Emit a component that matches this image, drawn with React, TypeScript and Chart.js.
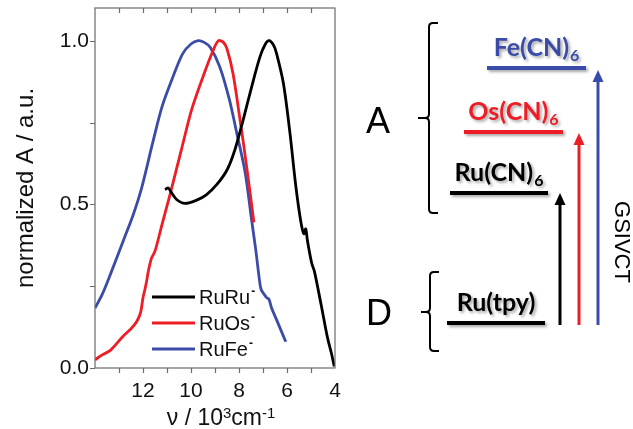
import React, { useEffect, useRef } from 'react';
import { Chart, registerables } from 'chart.js';

Chart.register(...registerables);

// ---- data (wavenumber in 10^3 cm^-1, normalized absorbance) ----
const ruRuV = [11.08, 10.95, 10.85, 10.6, 10.25, 9.76, 9.35, 8.93, 8.5, 8.17, 7.82, 7.47, 7.13, 6.9, 6.74, 6.55, 6.43, 6.15, 5.88, 5.64, 5.43, 5.3, 5.22, 5.15, 4.97, 4.86, 4.58, 4.31, 4.15, 4.03];
const ruRuA = [0.545, 0.55, 0.54, 0.515, 0.503, 0.513, 0.53, 0.56, 0.605, 0.667, 0.76, 0.86, 0.95, 0.99, 1.0, 0.985, 0.96, 0.87, 0.72, 0.56, 0.45, 0.41, 0.425, 0.39, 0.32, 0.296, 0.194, 0.092, 0.045, 0.005];

const ruOsV = [14, 13.7, 13.375, 12.82, 12.5, 12.26, 12.1, 12.0, 11.92, 11.85, 11.78, 11.65, 11.5, 11.22, 10.875, 10.4, 9.97, 9.5, 9.08, 8.86, 8.65, 8.5, 8.25, 7.96, 7.69, 7.38];
const ruOsA = [0.025, 0.04, 0.053, 0.098, 0.12, 0.142, 0.17, 0.215, 0.24, 0.265, 0.295, 0.335, 0.357, 0.435, 0.53, 0.667, 0.79, 0.89, 0.97, 1.0, 0.995, 0.975, 0.9, 0.76, 0.62, 0.445];

const ruFeV = [14, 13.7, 13.375, 12.82, 12.4, 12.05, 11.6, 11.2, 10.75, 10.35, 10.0, 9.7, 9.45, 9.2, 8.8, 8.4, 8.1, 7.75, 7.47, 7.3, 7.15, 7.08, 6.95, 6.85, 6.75, 6.65, 6.45, 6.25, 6.05];
const ruFeA = [0.183, 0.225, 0.283, 0.389, 0.47, 0.552, 0.687, 0.8, 0.89, 0.96, 0.99, 1.0, 0.995, 0.98, 0.92, 0.82, 0.72, 0.6, 0.45, 0.36, 0.27, 0.24, 0.225, 0.215, 0.21, 0.185, 0.15, 0.115, 0.08];

const seriesNames = ['RuRu', 'RuOs', 'RuFe'];
const seriesColors = ['#000000', '#ee1c25', '#3a4ca8'];

const xLabelValues = [4, 6, 8, 10, 12];
const yLabelValues = [0, 0.5, 1.0];
const xTickValues = [5, 6, 7, 8, 9, 10, 11, 12, 13];
const yTickValues = [0, 0.25, 0.5, 0.75, 1.0];

// energy diagram
const levelNames = ['Fe(CN)', 'Os(CN)', 'Ru(CN)', 'Ru(tpy)'];
const levelSubs = ['6', '6', '6', ''];
const levelColors = ['#3a4ca8', '#ee1c25', '#000000', '#000000'];

const FONT = '"Liberation Sans", Arial, sans-serif';

const toPoints = (v: number[], a: number[]) => v.map((x, i) => ({ x, y: a[i] }));

const framePlugin = {
  id: 'frameTicks',
  afterDraw(chart: any) {
    const { ctx, chartArea } = chart;
    const xs = chart.scales.x;
    const ys = chart.scales.y;
    ctx.save();
    ctx.strokeStyle = '#6a6a6a';
    ctx.lineWidth = 1.2;
    ctx.strokeRect(chartArea.left, chartArea.top, chartArea.right - chartArea.left, chartArea.bottom - chartArea.top);
    ctx.beginPath();
    xTickValues.forEach((v) => {
      const px = Math.round(xs.getPixelForValue(v)) + 0.5;
      ctx.moveTo(px, chartArea.bottom);
      ctx.lineTo(px, chartArea.bottom + 5);
      ctx.moveTo(px, chartArea.top);
      ctx.lineTo(px, chartArea.top + 5);
    });
    yTickValues.forEach((v) => {
      const py = Math.round(ys.getPixelForValue(v)) + 0.5;
      ctx.moveTo(chartArea.left, py);
      ctx.lineTo(chartArea.left - 5, py);
    });
    ctx.stroke();

    ctx.fillStyle = '#111';
    ctx.textBaseline = 'alphabetic';
    ctx.textAlign = 'left';

    // x tick labels (10px glyphs scaled to ~21px)
    const LS = 2.1;
    ctx.font = `10px ${FONT}`;
    xLabelValues.forEach((v) => {
      const px = xs.getPixelForValue(v);
      const t = String(v);
      const w = ctx.measureText(t).width * LS;
      ctx.save();
      ctx.translate(px - w / 2, chartArea.bottom + 29);
      ctx.scale(LS, LS);
      ctx.fillText(t, 0, 0);
      ctx.restore();
    });

    // x-axis title with real superscripts (10px glyphs scaled to ~23px)
    const TS = 2.3;
    const parts: [string, boolean][] = [['ν / 10', false], ['3', true], ['cm', false], ['-1', true]];
    const big = `10px ${FONT}`;
    const small = `6.5px ${FONT}`;
    let total = 0;
    parts.forEach(([t, sup]) => { ctx.font = sup ? small : big; total += ctx.measureText(t).width * TS; });
    let x = 221 - total / 2;
    parts.forEach(([t, sup]) => {
      ctx.font = sup ? small : big;
      const w = ctx.measureText(t).width * TS;
      ctx.save();
      ctx.translate(x, sup ? 418 : 425);
      ctx.scale(TS, TS);
      ctx.fillText(t, 0, 0);
      ctx.restore();
      x += w;
    });

    // legend inside plot
    const lx = chartArea.left + 57;
    const ly0 = chartArea.bottom - 71;
    chart.data.datasets.forEach((ds: any, i: number) => {
      const y = ly0 + i * 26;
      ctx.strokeStyle = ds.borderColor;
      ctx.lineWidth = 3;
      ctx.beginPath();
      ctx.moveTo(lx, y);
      ctx.lineTo(lx + 43, y);
      ctx.stroke();
      ctx.fillStyle = '#111';
      ctx.font = `20px ${FONT}`;
      ctx.textBaseline = 'middle';
      ctx.textAlign = 'left';
      ctx.fillText(ds.label, lx + 47, y + 1);
      const w = ctx.measureText(ds.label).width;
      ctx.font = `bold 12px ${FONT}`;
      ctx.fillText('-', lx + 48 + w, y - 5);
    });
    ctx.restore();
  },
};

const diagramPlugin = {
  id: 'diagram',
  afterDraw(chart: any) {
    const ctx = chart.ctx;
    ctx.save();
    ctx.fillStyle = '#000';
    ctx.font = `36px ${FONT}`;
    ctx.textAlign = 'left';
    ctx.textBaseline = 'alphabetic';
    ctx.fillText('A', 366, 133);
    ctx.fillText('D', 366, 325);

    const brace = (x: number, y0: number, ym: number, y1: number, xl: number) => {
      ctx.beginPath();
      ctx.moveTo(x + 9, y0);
      ctx.lineTo(x + 4, y0);
      ctx.quadraticCurveTo(x, y0, x, y0 + 4);
      ctx.lineTo(x, ym - 4);
      ctx.quadraticCurveTo(x, ym, x - 4, ym);
      ctx.lineTo(xl, ym);
      ctx.moveTo(x - 4, ym);
      ctx.quadraticCurveTo(x, ym, x, ym + 4);
      ctx.lineTo(x, y1 - 4);
      ctx.quadraticCurveTo(x, y1, x + 4, y1);
      ctx.lineTo(x + 9, y1);
      ctx.stroke();
    };
    ctx.strokeStyle = '#000';
    ctx.lineWidth = 2;
    brace(429, 23, 118, 213, 418);
    brace(430, 272, 312, 351, 421);

    const levelX0 = [487, 464, 450, 447];
    const levelX1 = [586, 563, 548, 545];
    const levelY = [68, 132, 193, 323];
    levelNames.forEach((name, i) => {
      ctx.save();
      ctx.shadowColor = 'rgba(0,0,0,0.35)';
      ctx.shadowBlur = 3;
      ctx.shadowOffsetX = 2;
      ctx.shadowOffsetY = 2;
      ctx.strokeStyle = levelColors[i];
      ctx.lineWidth = 4;
      ctx.beginPath();
      ctx.moveTo(levelX0[i], levelY[i]);
      ctx.lineTo(levelX1[i], levelY[i]);
      ctx.stroke();
      ctx.fillStyle = levelColors[i];
      ctx.font = `bold 25px Lato, ${FONT}`;
      const w1 = ctx.measureText(name).width;
      ctx.font = `bold 16px Lato, ${FONT}`;
      const w2 = levelSubs[i] ? ctx.measureText(levelSubs[i]).width + 1 : 0;
      const cx = (levelX0[i] + levelX1[i]) / 2;
      const sx = cx - (w1 + w2) / 2;
      const by = levelY[i] - 12;
      ctx.font = `bold 25px Lato, ${FONT}`;
      ctx.textAlign = 'left';
      ctx.fillText(name, sx, by);
      if (levelSubs[i]) {
        ctx.font = `bold 16px Lato, ${FONT}`;
        ctx.fillText(levelSubs[i], sx + w1 + 1, by + 5);
      }
      ctx.restore();
    });

    const arrow = (x: number, y0: number, y1: number, color: string) => {
      ctx.strokeStyle = color;
      ctx.fillStyle = color;
      ctx.lineWidth = 3;
      ctx.beginPath();
      ctx.moveTo(x, y0);
      ctx.lineTo(x, y1 + 10);
      ctx.stroke();
      ctx.beginPath();
      ctx.moveTo(x - 5.5, y1 + 12);
      ctx.lineTo(x + 5.5, y1 + 12);
      ctx.lineTo(x, y1);
      ctx.closePath();
      ctx.fill();
    };
    arrow(560, 325, 193, '#000000');
    arrow(579, 325, 133, '#ee1c25');
    arrow(598, 325, 70, '#3a4ca8');

    ctx.save();
    ctx.translate(621, 242);
    ctx.rotate(Math.PI / 2);
    ctx.fillStyle = '#000';
    ctx.font = `22px ${FONT}`;
    ctx.textAlign = 'center';
    ctx.textBaseline = 'middle';
    ctx.fillText('GSIVCT', 0, 0);
    ctx.restore();

    ctx.restore();
  },
};

export default function App() {
  const ref = useRef<HTMLCanvasElement>(null);
  useEffect(() => {
    if (!ref.current) return;
    const data = [toPoints(ruRuV, ruRuA), toPoints(ruOsV, ruOsA), toPoints(ruFeV, ruFeA)];
    const chart = new Chart(ref.current, {
      type: 'line',
      data: {
        datasets: data.map((d, i) => ({
          label: seriesNames[i],
          data: d,
          borderColor: seriesColors[i],
          backgroundColor: seriesColors[i],
          borderWidth: 2.8,
          pointRadius: 0,
          tension: 0.3,
          fill: false,
        })),
      },
      options: {
        responsive: false,
        animation: false,
        layout: { padding: { top: 8, right: 298, left: 0, bottom: 0 } },
        plugins: { legend: { display: false }, tooltip: { enabled: false } },
        scales: {
          x: {
            type: 'linear',
            reverse: true,
            min: 4,
            max: 14,
            grid: { display: false, drawTicks: false, tickLength: 0 },
            border: { display: false },
            afterFit: (s: any) => { s.height = 61; s.paddingLeft = 0; s.paddingRight = 0; },
            ticks: { display: false },
            title: { display: false },
          },
          y: {
            min: 0,
            max: 1.1,
            grid: { display: false, drawTicks: false, tickLength: 0 },
            border: { display: false },
            afterFit: (s: any) => { s.width = 95; s.paddingTop = 0; s.paddingBottom = 0; },
            afterBuildTicks: (s: any) => { s.ticks = yLabelValues.map((v) => ({ value: v })); },
            ticks: {
              color: '#111',
              font: { family: FONT, size: 21 },
              padding: 6,
              autoSkip: false,
              callback: (v: any) => Number(v).toFixed(1),
            },
            title: {
              display: true,
              text: 'normalized A / a.u.',
              color: '#111',
              font: { family: FONT, size: 24 },
              padding: { top: 12, bottom: 0 },
            },
          },
        },
      },
      plugins: [framePlugin, diagramPlugin],
    });
    return () => chart.destroy();
  }, []);
  return (
    <div style={{ position: 'absolute', left: 0, top: 0, width: 633, height: 429, background: '#fff' }}>
      <canvas ref={ref} width={633} height={429} />
    </div>
  );
}
